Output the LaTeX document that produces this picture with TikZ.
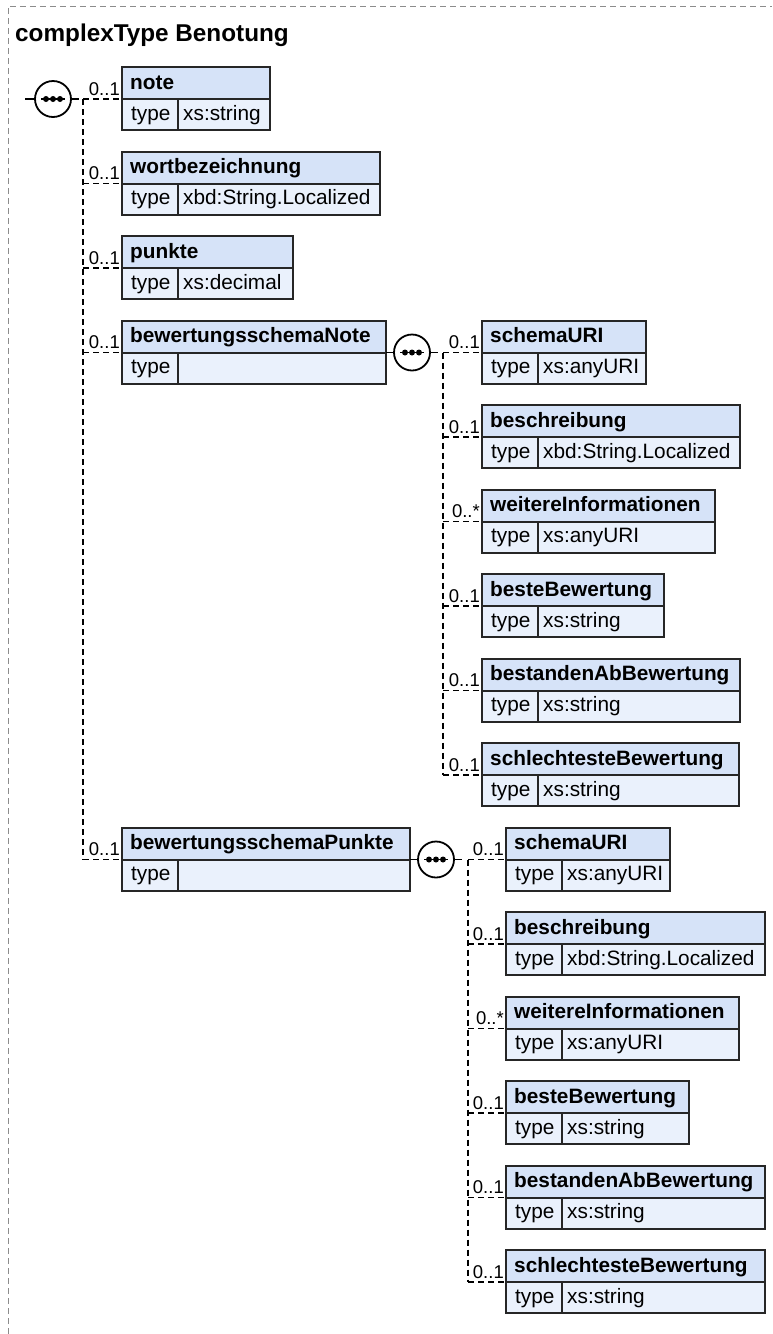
\documentclass[tikz,border=0pt]{standalone}
\usepackage{fontspec}
\setmainfont{Liberation Sans}
\usetikzlibrary{positioning,calc}
\definecolor{hdrblue}{HTML}{D6E3F8}
\definecolor{rowblue}{HTML}{EAF1FC}
\definecolor{framegray}{HTML}{8C8C8C}

% one element box: id, x, top, width, name, type, multiplicity
\newcommand{\xelem}[7]{%
  \node[hdrbox, minimum width=#4, anchor=north west] (#1) at (#2,#3) {};
  \node[hdrtext] (#1-name) at ($(#1.north west)+(8,22)$) {#5};
  \node[typebox, minimum width=#4, anchor=north west] (#1-t) at (#1.south west) {};
  \draw[divider] ($(#1-t.north west)+(56,0)$) -- ($(#1-t.south west)+(56,0)$);
  \node[typetext] (#1-key) at ($(#1-t.north west)+(9,21)$) {type};
  \node[typetext] (#1-val) at ($(#1-t.north west)+(61,21)$) {#6};
  \node[multtext] (#1-mult) at ($(#1.south west)+(-2,-4)$) {#7};
}

\begin{document}
\begin{tikzpicture}[x=1pt, y=-1pt,
    hdrbox/.style={draw=black!85, line width=2pt, fill=hdrblue,
      minimum height=32pt, inner sep=0, outer sep=0},
    typebox/.style={draw=black!85, line width=2pt, fill=rowblue,
      minimum height=31pt, inner sep=0, outer sep=0},
    divider/.style={draw=black!85, line width=1.4pt},
    hdrtext/.style={anchor=base west, inner sep=0,
      font=\fontsize{20.8}{25}\selectfont\bfseries},
    typetext/.style={anchor=base west, inner sep=0,
      font=\fontsize{20.8}{25}\selectfont},
    multtext/.style={anchor=base east, inner sep=0,
      font=\fontsize{18.5}{22}\selectfont},
    seqcirc/.style={circle, draw=black, line width=1.8pt, fill=white,
      minimum size=36pt, inner sep=0},
    solidline/.style={draw=black, line width=1.6pt},
    conn/.style={draw=black, line width=1.7pt, dash pattern=on 6pt off 4pt},
    frame/.style={draw=framegray, line width=1pt, dash pattern=on 6pt off 4pt}]
  \useasboundingbox (0,0) rectangle (772,1334);
  \draw[frame] (8,1334) -- (8,6) -- (772,6);
  \node[anchor=base west, inner sep=0, font=\fontsize{24.3}{29}\selectfont\bfseries]
    (ttl) at (15,41) {complexType Benotung};

  % first level
  \xelem{note}{122}{67}{148}{note}{xs:string}{0..1}
  \xelem{wort}{122}{151.5}{258}{wortbezeichnung}{xbd:String.Localized}{0..1}
  \xelem{punkte}{122}{236}{171}{punkte}{xs:decimal}{0..1}
  \xelem{bsn}{122}{320.5}{264}{bewertungsschemaNote}{}{0..1}
  \xelem{bsp}{122}{827.5}{288}{bewertungsschemaPunkte}{}{0..1}

  % children of bewertungsschemaNote
  \xelem{n-uri}{482}{320.5}{164}{schemaURI}{xs:anyURI}{0..1}
  \xelem{n-besch}{482}{405}{258}{beschreibung}{xbd:String.Localized}{0..1}
  \xelem{n-info}{482}{489.5}{233}{weitereInformationen}{xs:anyURI}{0..*}
  \xelem{n-best}{482}{574}{182}{besteBewertung}{xs:string}{0..1}
  \xelem{n-bestanden}{482}{658.5}{258}{bestandenAbBewertung}{xs:string}{0..1}
  \xelem{n-schlecht}{482}{743}{257}{schlechtesteBewertung}{xs:string}{0..1}

  % children of bewertungsschemaPunkte
  \xelem{p-uri}{506}{827.5}{164}{schemaURI}{xs:anyURI}{0..1}
  \xelem{p-besch}{506}{912}{259}{beschreibung}{xbd:String.Localized}{0..1}
  \xelem{p-info}{506}{996.5}{233}{weitereInformationen}{xs:anyURI}{0..*}
  \xelem{p-best}{506}{1081}{183}{besteBewertung}{xs:string}{0..1}
  \xelem{p-bestanden}{506}{1165.5}{259}{bestandenAbBewertung}{xs:string}{0..1}
  \xelem{p-schlecht}{506}{1250}{259}{schlechtesteBewertung}{xs:string}{0..1}

  % sequence compositors
  \coordinate (root) at (25,99);
  \node[seqcirc] (seq1) at (53,99) {};
  \node[seqcirc] (seq2) at (412,352.5) {};
  \node[seqcirc] (seq3) at (436,859.5) {};
  \foreach \s in {seq1,seq2,seq3} {
    \draw[line width=1.4pt] ($(\s)+(-12,0)$) -- ($(\s)+(12,0)$);
    \foreach \d in {-7,0,7}
      \fill ($(\s)+(\d,0)$) circle (3pt);
    \draw[solidline] (\s.east) -- ++(7,0);
  }
  \draw[solidline] (root) -- (seq1.west);
  \draw[solidline] (bsn.south east) -- (seq2.west);
  \draw[solidline] (bsp.south east) -- (seq3.west);

  % connectors
  \coordinate (bus1) at (83,99);
  \coordinate (bus2) at (443,352.5);
  \coordinate (bus3) at (468,859.5);
  \draw[conn] (bus1) -- (bus1 |- bsp.south west);
  \draw[conn] (bus2) -- (bus2 |- n-schlecht.south west);
  \draw[conn] (bus3) -- (bus3 |- p-schlecht.south west);
  \foreach \e in {note,wort,punkte,bsn,bsp}
    \draw[conn] (bus1 |- \e.south west) -- (\e.south west);
  \foreach \e in {n-uri,n-besch,n-info,n-best,n-bestanden,n-schlecht}
    \draw[conn] (bus2 |- \e.south west) -- (\e.south west);
  \foreach \e in {p-uri,p-besch,p-info,p-best,p-bestanden,p-schlecht}
    \draw[conn] (bus3 |- \e.south west) -- (\e.south west);
\end{tikzpicture}
\end{document}
